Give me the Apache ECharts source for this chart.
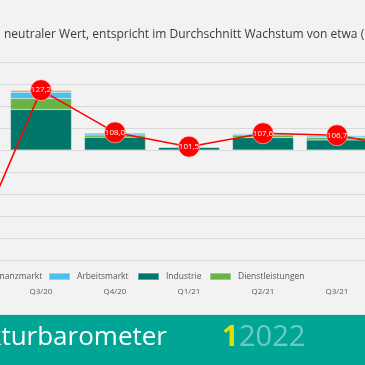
<!DOCTYPE html>
<html>
<head>
<meta charset="utf-8">
<script src="https://cdn.jsdelivr.net/npm/echarts@6/dist/echarts.min.js"></script>
<style>
html,body{margin:0;padding:0;background:#f2f2f2;}
#c{width:365px;height:365px;}
</style>
</head>
<body>
<div id="c"></div>
<script>
// ---- data ----
var categories = ['Q2/20', 'Q3/20', 'Q4/20', 'Q1/21', 'Q2/21', 'Q3/21', 'Q4/21'];
var barometer = [49.0, 127.2, 108.0, 101.5, 107.6, 106.7, 100.8];
var industrie = [null, 18.4, 5.8, 1.2, 5.6, 4.6, null];
var dienstleistungen = [null, 5.0, 1.0, 0.1, 1.2, 1.1, null];
var arbeitsmarkt = [null, 2.9, 0.9, 0.1, 0.5, 0.7, null];
var finanzmarkt = [null, 0.9, 0.3, 0.1, 0.3, 0.3, null];
var neutral = 100;
var yTicksMin = -50, yTicksMax = 40, yTickStep = 10;
var titleText = 'neutraler Wert, entspricht im Durchschnitt Wachstum von etwa (';

var FONT = '"Open Sans", "Noto Sans", sans-serif';
var chart = echarts.init(document.getElementById('c'), null, {renderer: 'canvas'});

function fmt(v) { return v.toFixed(1).replace('.', ','); }

var colors = {
  Industrie: '#00776a',
  Dienstleistungen: '#6ab345',
  Arbeitsmarkt: '#4dbfef',
  Finanzmarkt: '#e8a25c'
};

function barSeries(name, data) {
  return {
    name: name, type: 'bar', stack: 'k', data: data,
    barWidth: 61,
    itemStyle: {color: colors[name], borderColor: 'rgba(255,255,255,0.35)', borderWidth: 0.5},
    emphasis: {disabled: true}, z: 2
  };
}

function legendAt(name, left) {
  return {
    data: [name], left: left, top: 272, icon: 'rect', itemWidth: 21, itemHeight: 7,
    padding: 0, selectedMode: false,
    textStyle: {color: '#595959', fontSize: 8.5, fontFamily: FONT, padding: [0, 0, 0, 2]}
  };
}

var option = {
  backgroundColor: '#f2f2f2',
  animation: false,
  grid: {left: -70, width: 518, top: 62, height: 198, containLabel: false, outerBoundsMode: 'none'},
  legend: [
    legendAt('Finanzmarkt', -36),
    legendAt('Arbeitsmarkt', 48),
    legendAt('Industrie', 137),
    legendAt('Dienstleistungen', 209)
  ],
  xAxis: {
    type: 'category', data: categories,
    axisLine: {show: false}, axisTick: {show: false},
    axisLabel: {color: '#595959', fontSize: 8, fontFamily: FONT, margin: 28}
  },
  yAxis: {
    type: 'value', min: yTicksMin, max: yTicksMax, interval: yTickStep,
    axisLabel: {show: false}, axisLine: {show: false}, axisTick: {show: false},
    splitLine: {lineStyle: {color: '#d9d9d9', width: 1}}
  },
  series: [
    barSeries('Industrie', industrie),
    barSeries('Dienstleistungen', dienstleistungen),
    barSeries('Arbeitsmarkt', arbeitsmarkt),
    barSeries('Finanzmarkt', finanzmarkt),
    {
      name: 'Konjunkturbarometer', type: 'line', z: 5,
      data: barometer.map(function (v) { return v - neutral; }),
      lineStyle: {color: '#ff0000', width: 1.5},
      symbol: 'circle', symbolSize: 21,
      itemStyle: {color: '#ff0000', borderColor: 'rgba(255,200,200,0.8)', borderWidth: 0.8},
      label: {
        show: true, position: 'inside', color: '#ffffff', fontSize: 8, fontFamily: FONT,
        formatter: function (p) { return fmt(p.value + neutral); }
      },
      emphasis: {disabled: true}, clip: true
    }
  ],
  graphic: [
    {type: 'text', left: 4, top: 29, style: {text: titleText, font: '12px ' + FONT, fill: '#3a3a3a'}},
    {type: 'rect', shape: {x: 0, y: 315, width: 365, height: 50}, style: {fill: '#00a595'}},
    {type: 'rect', shape: {x: 0, y: 314, width: 365, height: 1}, style: {fill: '#cfe9e5'}},
    {type: 'text', x: 167, y: 351, style: {text: 'Konjunkturbarometer', font: '26px ' + FONT, fill: '#ffffff', textAlign: 'right', textVerticalAlign: 'bottom'}},
    {type: 'text', x: 222, y: 352, style: {text: '1', font: 'bold 29px ' + FONT, fill: '#dde000', textAlign: 'left', textVerticalAlign: 'bottom'}},
    {type: 'text', x: 239, y: 352, style: {text: '2022', font: '29px ' + FONT, fill: 'rgba(255,255,255,0.42)', textAlign: 'left', textVerticalAlign: 'bottom'}}
  ]
};
chart.setOption(option);
</script>
</body>
</html>
